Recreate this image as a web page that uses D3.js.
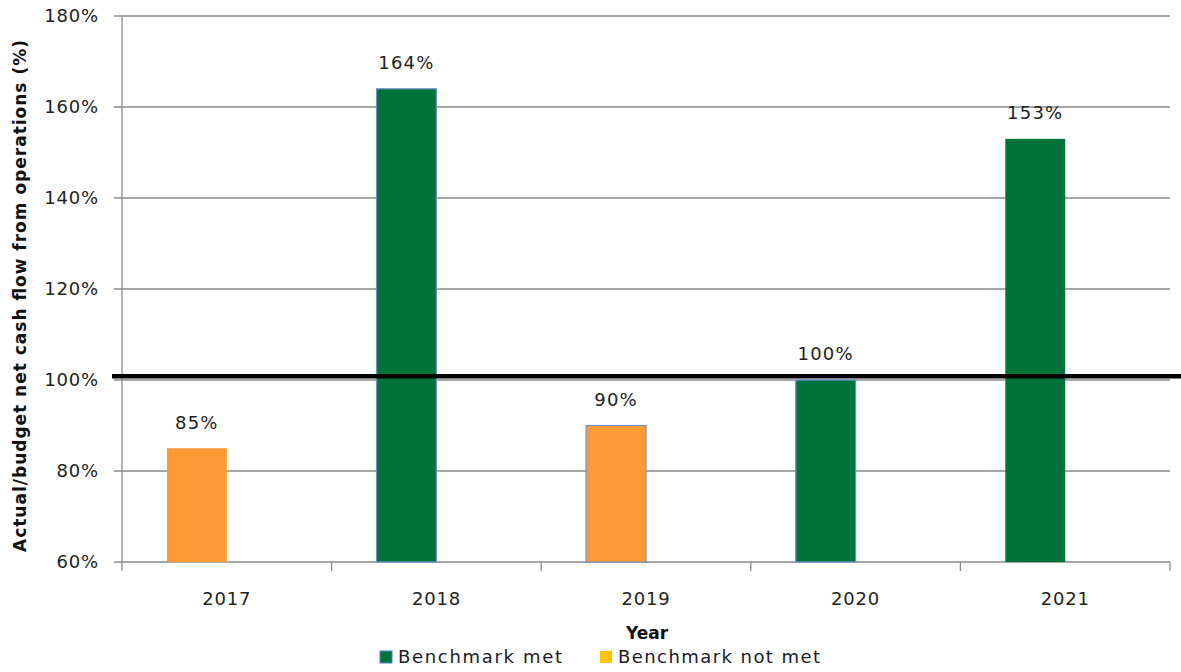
<!DOCTYPE html>
<html><head><meta charset="utf-8">
<script src="https://cdn.jsdelivr.net/npm/d3@7"></script>
<style>
body{margin:0;background:#fff;}
text{font-family:"DejaVu Sans",Verdana,sans-serif;}
</style></head>
<body><svg id="chart" width="1181" height="672"></svg>
<script>
const categories = ["2017","2018","2019","2020","2021"];
const values = [85,164,90,100,153];
const status = ["not met","met","not met","met","met"];
const valueLabels = ["85%","164%","90%","100%","153%"];
const yTicks = [60,80,100,120,140,160,180];
const benchmark = [100.8];
const legendItems = ["Benchmark met","Benchmark not met"];

const W=1181,H=672;
const m={left:122,right:11,top:16,bottom:110};
const svg=d3.select("#chart");
const x=d3.scaleBand().domain(categories).range([m.left,W-m.right]).padding(0);
const slot=d3.scaleBand().domain(["bar","spare"]).range([0,x.bandwidth()]).paddingInner(0).paddingOuter(0.75);
const y=d3.scaleLinear().domain([60,180]).range([H-m.bottom,m.top]);
const barColor={"met":"#00733a","not met":"#ff9933"};
const legendColor=["#00733a","#ffc000"];
const grid="#8a8a8a";

svg.append("g").selectAll("line").data(yTicks).join("line")
  .attr("x1",m.left-8).attr("x2",W-m.right)
  .attr("y1",d=>y(d)).attr("y2",d=>y(d))
  .attr("stroke",grid).attr("stroke-width",1.3);
svg.append("line").attr("x1",m.left).attr("x2",m.left).attr("y1",y(180)).attr("y2",y(60))
  .attr("stroke",grid).attr("stroke-width",1.3);
const bounds=categories.map(c=>x(c)).concat([x(categories[4])+x.bandwidth()]);
svg.append("g").selectAll("line").data(bounds).join("line")
  .attr("x1",d=>d).attr("x2",d=>d).attr("y1",y(60)).attr("y2",y(60)+9)
  .attr("stroke",grid).attr("stroke-width",1.3);
svg.append("g").selectAll("text").data(yTicks).join("text")
  .attr("x",m.left-23).attr("y",d=>y(d)).attr("dy","0.35em")
  .attr("text-anchor","end").attr("font-size",18).attr("letter-spacing",0.8).attr("fill","#222")
  .text(d=>d+"%");
svg.append("g").selectAll("rect").data(categories).join("rect")
  .attr("x",(c)=>x(c)+slot("bar")).attr("width",slot.bandwidth())
  .attr("y",(c,i)=>y(values[i])).attr("height",(c,i)=>y(60)-y(values[i]))
  .attr("fill",(c,i)=>barColor[status[i]])
  .attr("stroke",(c,i)=>(i>=1&&i<=3)?"#6f93c9":"none").attr("stroke-width",1.2);
svg.append("g").selectAll("text").data(categories).join("text")
  .attr("x",c=>x(c)+slot("bar")+slot.bandwidth()/2)
  .attr("y",(c,i)=>y(values[i])-26).attr("dy","0.35em")
  .attr("text-anchor","middle").attr("font-size",18).attr("letter-spacing",1.2).attr("fill","#222")
  .text((c,i)=>valueLabels[i]);
svg.append("line").attr("x1",m.left-10).attr("x2",W)
  .attr("y1",y(benchmark[0])).attr("y2",y(benchmark[0]))
  .attr("stroke","#000").attr("stroke-width",4.5);
svg.append("g").selectAll("text").data(categories).join("text")
  .attr("x",c=>x(c)+x.bandwidth()/2).attr("y",599).attr("dy","0.35em")
  .attr("text-anchor","middle").attr("font-size",18).attr("letter-spacing",0.8).attr("fill","#222").text(c=>c);
svg.append("text").attr("x",(m.left+W-m.right)/2+1).attr("y",633).attr("dy","0.35em")
  .attr("text-anchor","middle").attr("font-size",17).attr("font-weight","bold").attr("fill","#111").text("Year");
svg.append("text").attr("transform",`translate(20,${(y(60)+y(180))/2+7}) rotate(-90)`)
  .attr("dy","0.35em").attr("text-anchor","middle").attr("font-size",17).attr("font-weight","bold").attr("fill","#111")
  .attr("textLength",512).attr("lengthAdjust","spacing")
  .text("Actual/budget net cash flow from operations (%)");
const lg=svg.append("g");
const lx=[380,600];
const lw=[164,202];
legendItems.forEach((t,i)=>{
  lg.append("rect").attr("x",lx[i]).attr("y",651).attr("width",12).attr("height",12)
    .attr("fill",legendColor[i]).attr("stroke",i===0?"#4f81bd":"none").attr("stroke-width",1);
  lg.append("text").attr("x",lx[i]+18).attr("y",657).attr("dy","0.35em")
    .attr("font-size",18).attr("fill","#1a1a2a").attr("textLength",lw[i]).attr("lengthAdjust","spacing").text(t);
});
</script></body></html>
